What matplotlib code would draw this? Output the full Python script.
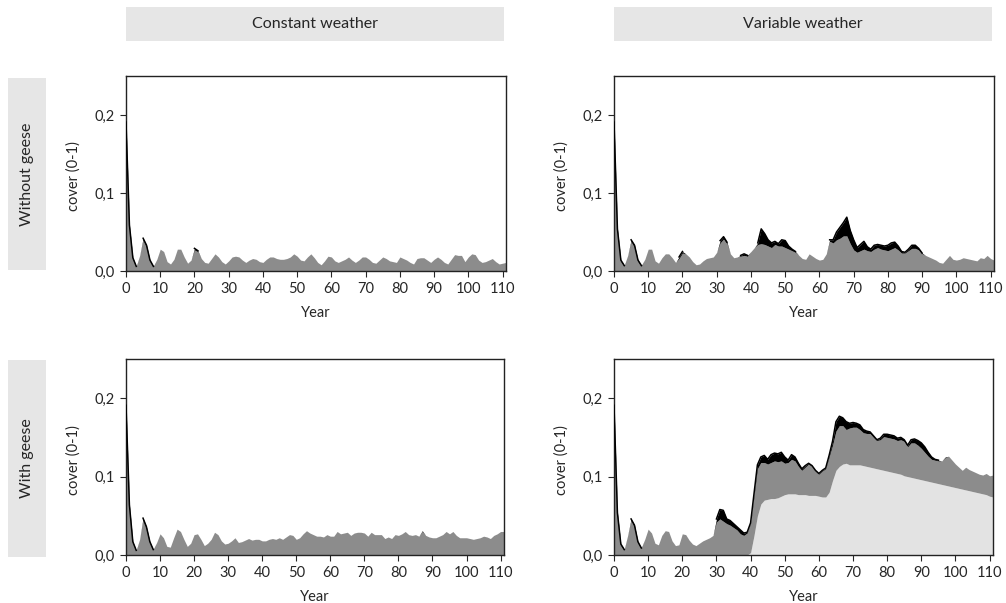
import numpy as np
import matplotlib
matplotlib.use('Agg')
import matplotlib.pyplot as plt
from matplotlib.patches import Rectangle
from matplotlib.ticker import MultipleLocator, FuncFormatter

######################################
# data (cover 0-1, one value per year, 0..111)
######################################

years = np.arange(112)

# constant weather, without geese
tl_grey = [0.185, 0.055, 0.015, 0.005, 0.02, 0.04, 0.03, 0.012, 0.005, 0.015,
           0.028, 0.025, 0.012, 0.009, 0.015, 0.028, 0.028, 0.018, 0.01, 0.014,
           0.027, 0.025, 0.016, 0.011, 0.01, 0.016, 0.022, 0.018, 0.012, 0.009,
           0.013, 0.018, 0.019, 0.018, 0.014, 0.011, 0.014, 0.016, 0.015, 0.012,
           0.011, 0.015, 0.018, 0.018, 0.016, 0.015, 0.015, 0.016, 0.018, 0.022,
           0.019, 0.014, 0.013, 0.018, 0.022, 0.017, 0.011, 0.008, 0.013, 0.019,
           0.018, 0.013, 0.011, 0.013, 0.015, 0.018, 0.014, 0.011, 0.014, 0.018,
           0.018, 0.015, 0.011, 0.01, 0.014, 0.018, 0.016, 0.013, 0.012, 0.011,
           0.018, 0.016, 0.014, 0.011, 0.009, 0.016, 0.017, 0.017, 0.014, 0.011,
           0.015, 0.018, 0.015, 0.011, 0.009, 0.015, 0.021, 0.02, 0.02, 0.012,
           0.018, 0.022, 0.021, 0.014, 0.011, 0.012, 0.014, 0.016, 0.012, 0.009,
           0.01, 0.011]
tl_black = {0: 0.006, 1: 0.004, 2: 0.002, 3: 0.001, 5: 0.002, 6: 0.003, 7: 0.002,
            8: 0.001, 20: 0.002, 21: 0.001}

# variable weather, without geese
tr_grey = [0.185, 0.05, 0.012, 0.006, 0.02, 0.038, 0.03, 0.012, 0.006, 0.015,
           0.028, 0.028, 0.013, 0.01, 0.017, 0.022, 0.022, 0.017, 0.011, 0.016,
           0.023, 0.022, 0.018, 0.012, 0.008, 0.009, 0.013, 0.016, 0.017, 0.018,
           0.024, 0.036, 0.041, 0.035, 0.022, 0.017, 0.018, 0.019, 0.02, 0.019,
           0.025, 0.03, 0.034, 0.035, 0.034, 0.032, 0.03, 0.034, 0.032, 0.032,
           0.03, 0.028, 0.026, 0.024, 0.02, 0.016, 0.015, 0.022, 0.019, 0.016,
           0.014, 0.015, 0.022, 0.038, 0.036, 0.04, 0.042, 0.045, 0.045, 0.035,
           0.027, 0.024, 0.026, 0.028, 0.026, 0.025, 0.028, 0.03, 0.028, 0.027,
           0.026, 0.028, 0.03, 0.027, 0.023, 0.023, 0.026, 0.029, 0.029, 0.027,
           0.022, 0.02, 0.018, 0.016, 0.014, 0.011, 0.01, 0.015, 0.02, 0.015,
           0.014, 0.015, 0.017, 0.016, 0.015, 0.014, 0.013, 0.017, 0.016, 0.02,
           0.016, 0.014]
tr_black = {0: 0.006, 1: 0.004, 2: 0.002, 3: 0.001, 5: 0.002, 6: 0.003, 7: 0.002,
            8: 0.001, 19: 0.002, 20: 0.002, 31: 0.003, 32: 0.003, 33: 0.002,
            37: 0.001, 38: 0.002, 39: 0.001, 42: 0.002, 43: 0.019, 44: 0.014,
            45: 0.008, 46: 0.006, 47: 0.004, 48: 0.003, 49: 0.008, 50: 0.009,
            51: 0.004, 52: 0.002, 53: 0.001, 63: 0.002, 64: 0.004, 65: 0.01,
            66: 0.014, 67: 0.017, 68: 0.024, 69: 0.017, 70: 0.013, 71: 0.006,
            72: 0.008, 73: 0.01, 74: 0.005, 75: 0.003, 76: 0.005, 77: 0.004,
            78: 0.005, 79: 0.005, 80: 0.007, 81: 0.008, 82: 0.007, 83: 0.005,
            84: 0.002, 85: 0.001, 86: 0.002, 87: 0.004, 88: 0.004, 89: 0.002,
            90: 0.001}

# constant weather, with geese
bl_grey = [0.185, 0.06, 0.015, 0.005, 0.02, 0.045, 0.033, 0.015, 0.006, 0.016,
           0.027, 0.022, 0.011, 0.01, 0.022, 0.033, 0.03, 0.02, 0.011, 0.015,
           0.026, 0.027, 0.02, 0.012, 0.015, 0.02, 0.029, 0.026, 0.018, 0.014,
           0.015, 0.018, 0.022, 0.016, 0.017, 0.019, 0.021, 0.019, 0.02, 0.02,
           0.018, 0.018, 0.02, 0.021, 0.02, 0.022, 0.02, 0.023, 0.026, 0.025,
           0.02, 0.022, 0.027, 0.031, 0.028, 0.026, 0.024, 0.024, 0.023, 0.026,
           0.024, 0.024, 0.03, 0.027, 0.028, 0.029, 0.025, 0.028, 0.029, 0.029,
           0.028, 0.024, 0.029, 0.026, 0.026, 0.026, 0.021, 0.023, 0.021, 0.026,
           0.025, 0.027, 0.03, 0.026, 0.025, 0.026, 0.024, 0.03, 0.025, 0.023,
           0.022, 0.022, 0.024, 0.026, 0.03, 0.027, 0.03, 0.025, 0.022, 0.022,
           0.022, 0.021, 0.02, 0.021, 0.022, 0.024, 0.023, 0.021, 0.025, 0.027,
           0.03, 0.03]
bl_black = {0: 0.006, 1: 0.004, 2: 0.002, 3: 0.001, 5: 0.002, 6: 0.003, 7: 0.002,
            8: 0.001, 87: 0.001}

# variable weather, with geese
br_light = {40: 0.003, 41: 0.025, 42: 0.05, 43: 0.065, 44: 0.07, 45: 0.071,
            46: 0.072, 47: 0.072, 48: 0.073, 49: 0.075, 50: 0.077, 51: 0.078,
            52: 0.078, 53: 0.078, 54: 0.077, 55: 0.077, 56: 0.077, 57: 0.076,
            58: 0.076, 59: 0.076, 60: 0.075, 61: 0.074, 62: 0.074, 63: 0.08,
            64: 0.095, 65: 0.108, 66: 0.113, 67: 0.116, 68: 0.117, 69: 0.115,
            70: 0.115, 71: 0.115, 72: 0.115, 73: 0.114, 74: 0.113, 75: 0.112,
            76: 0.111, 77: 0.11, 78: 0.109, 79: 0.108, 80: 0.107, 81: 0.106,
            82: 0.105, 83: 0.104, 84: 0.103, 85: 0.101, 86: 0.1, 87: 0.099,
            88: 0.098, 89: 0.097, 90: 0.096, 91: 0.095, 92: 0.094, 93: 0.093,
            94: 0.092, 95: 0.091, 96: 0.09, 97: 0.089, 98: 0.088, 99: 0.087,
            100: 0.086, 101: 0.085, 102: 0.084, 103: 0.083, 104: 0.082,
            105: 0.081, 106: 0.08, 107: 0.079, 108: 0.078, 109: 0.077,
            110: 0.075, 111: 0.074}
br_grey = [0.185, 0.05, 0.012, 0.006, 0.025, 0.044, 0.035, 0.015, 0.008, 0.02,
           0.033, 0.028, 0.015, 0.013, 0.025, 0.031, 0.03, 0.018, 0.012, 0.013,
           0.027, 0.026, 0.019, 0.014, 0.012, 0.015, 0.018, 0.02, 0.022, 0.025,
           0.042, 0.046, 0.043, 0.04, 0.038, 0.035, 0.032, 0.027, 0.025, 0.028,
           0.04, 0.075, 0.11, 0.118, 0.118, 0.116, 0.118, 0.12, 0.119, 0.12,
           0.117, 0.118, 0.122, 0.12, 0.113, 0.108, 0.112, 0.116, 0.113, 0.107,
           0.103, 0.107, 0.11, 0.125, 0.14, 0.158, 0.165, 0.165, 0.16, 0.162,
           0.163, 0.163, 0.16, 0.156, 0.155, 0.155, 0.15, 0.146, 0.147, 0.151,
           0.15, 0.149, 0.148, 0.146, 0.147, 0.145, 0.138, 0.143, 0.143, 0.14,
           0.136, 0.131, 0.126, 0.122, 0.121, 0.12, 0.12, 0.124, 0.126, 0.121,
           0.116, 0.112, 0.108, 0.112, 0.109, 0.107, 0.105, 0.103, 0.102, 0.104,
           0.101, 0.102]
br_black = {0: 0.006, 1: 0.004, 2: 0.002, 3: 0.001, 5: 0.002, 6: 0.003, 7: 0.002,
            8: 0.001, 30: 0.004, 31: 0.012, 32: 0.014, 33: 0.006, 34: 0.006,
            35: 0.005, 36: 0.004, 37: 0.005, 38: 0.003, 39: 0.001, 40: 0.001,
            41: 0.003, 42: 0.005, 43: 0.007, 44: 0.009, 45: 0.006, 46: 0.01,
            47: 0.01, 48: 0.01, 49: 0.011, 50: 0.008, 51: 0.003, 52: 0.006,
            53: 0.005, 54: 0.004, 55: 0.002, 56: 0.002, 57: 0.001, 58: 0.001,
            59: 0.001, 60: 0.001, 61: 0.001, 62: 0.001, 63: 0.002, 64: 0.005,
            65: 0.012, 66: 0.012, 67: 0.01, 68: 0.01, 69: 0.006, 70: 0.006,
            71: 0.005, 72: 0.006, 73: 0.004, 74: 0.003, 75: 0.002, 76: 0.002,
            77: 0.001, 78: 0.002, 79: 0.003, 80: 0.004, 81: 0.004, 82: 0.004,
            83: 0.003, 84: 0.003, 85: 0.002, 86: 0.002, 87: 0.004, 88: 0.005,
            89: 0.006, 90: 0.007, 91: 0.007, 92: 0.005, 93: 0.003, 94: 0.001,
            95: 0.001, 97: 0.001}

col_titles = ['Constant weather', 'Variable weather']
row_titles = ['Without geese', 'With geese']

######################################

fts = 10.5
plt.rcParams['font.family'] = ['Lato', 'DejaVu Sans']
plt.rcParams['font.size'] = fts
txtcol = '#262626'

W, H = 1006., 603.

def fx(px):
    return px / W

def fy(py):
    return 1.0 - py / H

def sparse(d):
    # dict {year: value} -> array over all years
    arr = np.zeros(len(years))
    for k, v in d.items():
        arr[k] = v
    return arr

def panel(ax, grey, black, light=None):
    grey = np.array(grey)
    black = sparse(black)
    light = sparse(light) if light is not None else np.zeros(len(years))
    top = grey + black
    ax.fill_between(years, 0, light, color='#e3e3e3', lw=0, zorder=1)
    ax.fill_between(years, light, grey, color='#8c8c8c', lw=0, zorder=2)
    ax.fill_between(years, grey, top, color='black', lw=0, zorder=3)
    # black outline only where the black layer exists
    edge = np.where(black > 0, top, np.nan)
    ax.plot(years, edge, color='black', lw=1.1, zorder=4, solid_joinstyle='round')

    ax.set_xlim(0, 111)
    ax.set_ylim(0, 0.25)
    ax.xaxis.set_major_locator(MultipleLocator(10))
    ax.yaxis.set_major_locator(MultipleLocator(0.1))
    ax.yaxis.set_major_formatter(FuncFormatter(lambda v, p: ('%.1f' % v).replace('.', ',')))
    ax.tick_params(direction='out', length=4, width=0.8, colors=txtcol,
                   labelsize=fts, pad=4)
    for s in ax.spines.values():
        s.set_linewidth(1.0)
        s.set_color('#222222')
    ax.set_xlabel('Year', fontsize=fts, color=txtcol, labelpad=7)
    return

fig = plt.figure(figsize=(W / 100, H / 100), dpi=100)

# axes boxes in pixels: left, right, top, bottom
boxes = [[(126, 506, 76, 271), (614, 994, 76, 271)],
         [(126, 504, 359, 555), (614, 993, 359, 555)]]
series = [[(tl_grey, tl_black, None), (tr_grey, tr_black, None)],
          [(bl_grey, bl_black, None), (br_grey, br_black, br_light)]]

for r in range(2):
    for c in range(2):
        l, rr, t, b = boxes[r][c]
        ax = fig.add_axes([fx(l), fy(b), fx(rr - l), (b - t) / H])
        g, k, lt = series[r][c]
        panel(ax, g, k, lt)
        fig.text(fx(l - 52), fy((t + b) / 2.0 + 3), 'cover (0-1)', rotation=90,
                 ha='center', va='center', fontsize=fts, color=txtcol)

# column headers
for c, (l, rr) in enumerate([(126, 504), (614, 992)]):
    fig.patches.append(Rectangle((fx(l), fy(41)), fx(rr - l), 34 / H,
                                 transform=fig.transFigure, facecolor='#e6e6e6',
                                 edgecolor='none', zorder=0))
    fig.text(fx((l + rr) / 2.0), fy(24), col_titles[c], ha='center', va='center',
             fontsize=fts + 1, color=txtcol)

# row headers
for r, (t, b) in enumerate([(78, 270), (360, 557)]):
    fig.patches.append(Rectangle((fx(8), fy(b)), fx(38), (b - t) / H,
                                 transform=fig.transFigure, facecolor='#e6e6e6',
                                 edgecolor='none', zorder=0))
    fig.text(fx(27), fy((t + b) / 2.0), row_titles[r], rotation=90, ha='center',
             va='center', fontsize=fts + 1, color=txtcol)

fig.savefig('out.png', dpi=100)
